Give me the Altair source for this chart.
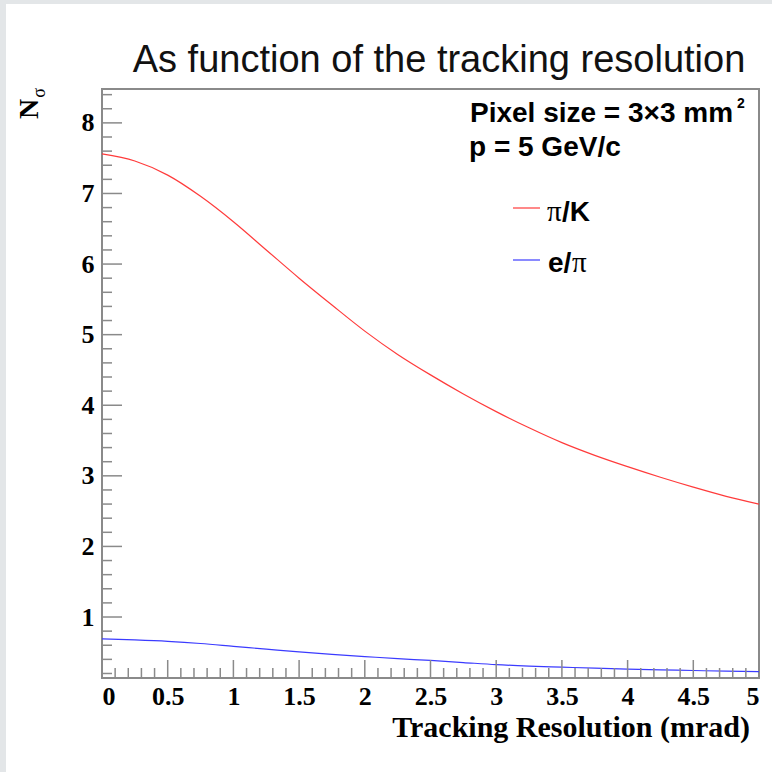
import altair as alt
import pandas as pd
import numpy as np

# ---- data ----
resolution = [0.0, 0.25, 0.5, 0.75, 1.0, 1.25, 1.5, 1.75, 2.0, 2.25, 2.5,
              2.75, 3.0, 3.25, 3.5, 3.75, 4.0, 4.25, 4.5, 4.75, 5.0]
pi_k = [7.56, 7.46, 7.26, 6.96, 6.60, 6.20, 5.80, 5.42, 5.05, 4.72, 4.43,
        4.16, 3.91, 3.68, 3.47, 3.29, 3.13, 2.98, 2.84, 2.71, 2.60]
e_pi = [0.69, 0.675, 0.655, 0.625, 0.585, 0.545, 0.505, 0.47, 0.44, 0.41, 0.385,
        0.355, 0.325, 0.305, 0.29, 0.275, 0.262, 0.252, 0.242, 0.232, 0.225]

x_major = [0, 0.5, 1, 1.5, 2, 2.5, 3, 3.5, 4, 4.5, 5]
y_major = [1, 2, 3, 4, 5, 6, 7, 8]
x_minor = [round(v, 1) for v in np.arange(0.1, 5.0, 0.1) if round(v * 10) % 5 != 0]
y_minor = [round(v, 1) for v in np.arange(0.2, 8.5, 0.2) if round(v * 10) % 10 != 0]

X_DOMAIN = [0, 5]
Y_DOMAIN = [0.136, 8.48]

W, H = 657, 589
LEFT, TOP = 102, 89

df = pd.DataFrame({
    "res": resolution * 2,
    "n": pi_k + e_pi,
    "series": ["π/K"] * len(resolution) + ["e/π"] * len(resolution),
})

xs = alt.Scale(domain=X_DOMAIN, nice=False, zero=False)
ys = alt.Scale(domain=Y_DOMAIN, nice=False, zero=False)

SERIF = "Liberation Serif"
SANS = "Liberation Sans"
GRAY = "#8a8a8a"
LABEL_SIZE = 26

x_axis = alt.Axis(values=x_major, format="~g", ticks=False, domain=False, grid=False,
                  labelFont=SERIF, labelFontWeight="bold", labelFontSize=LABEL_SIZE,
                  labelColor="black", labelPadding=5, title=None)
y_axis = alt.Axis(values=y_major, format="~g", ticks=False, domain=False, grid=False,
                  labelFont=SERIF, labelFontWeight="bold", labelFontSize=LABEL_SIZE,
                  labelColor="black", labelPadding=8, title=None)

lines = alt.Chart(df).mark_line(strokeWidth=1.2, interpolate="monotone").encode(
    x=alt.X("res:Q", scale=xs, axis=x_axis),
    y=alt.Y("n:Q", scale=ys, axis=y_axis),
    color=alt.Color("series:N", scale=alt.Scale(domain=["π/K", "e/π"], range=["#ff3b3b", "#3b3bff"]),
                    legend=None),
)

# inward ticks
xt_major = alt.Chart(pd.DataFrame({"v": x_major[1:-1] + [0]})).mark_rule(color=GRAY, strokeWidth=1.5).encode(
    x=alt.X("v:Q", scale=xs, axis=x_axis), y=alt.value(H), y2=alt.value(H - 18))
xt_minor = alt.Chart(pd.DataFrame({"v": x_minor})).mark_rule(color=GRAY, strokeWidth=1.5).encode(
    x=alt.X("v:Q", scale=xs, axis=x_axis), y=alt.value(H), y2=alt.value(H - 10))
yt_major = alt.Chart(pd.DataFrame({"v": y_major})).mark_rule(color=GRAY, strokeWidth=1.5).encode(
    y=alt.Y("v:Q", scale=ys, axis=y_axis), x=alt.value(0), x2=alt.value(20))
yt_minor = alt.Chart(pd.DataFrame({"v": y_minor})).mark_rule(color=GRAY, strokeWidth=1.5).encode(
    y=alt.Y("v:Q", scale=ys, axis=y_axis), x=alt.value(0), x2=alt.value(10))

# outer gray border strips (screenshot frame)
border_left = alt.Chart(pd.DataFrame({"a": [0]})).mark_rect(color="#e3e6e8").encode(
    x=alt.value(-LEFT), x2=alt.value(-LEFT + 6), y=alt.value(-TOP), y2=alt.value(H + 94))
border_top = alt.Chart(pd.DataFrame({"a": [0]})).mark_rect(color="#e3e6e8").encode(
    x=alt.value(-LEFT), x2=alt.value(W + 13), y=alt.value(-TOP), y2=alt.value(-TOP + 4))


def txt(text, x, y, size, font=SANS, weight="normal", align="left", baseline="alphabetic",
        angle=0, color="black"):
    return alt.Chart(pd.DataFrame({"t": [text]})).mark_text(
        font=font, fontSize=size, fontWeight=weight, align=align, baseline=baseline,
        angle=angle, color=color).encode(text="t:N", x=alt.value(x), y=alt.value(y))


texts = [
    txt("As function of the tracking resolution", 337, -17, 38, color="#111111", align="center"),
    txt("Pixel size = 3×3 mm", 368, 33, 28, weight="bold"),
    txt("2", 635, 19, 14, weight="bold"),
    txt("p = 5 GeV/c", 367, 67, 28, weight="bold"),
    txt("π", 445, 132, 29, font=SERIF),
    txt("/K", 460, 132, 28, weight="bold"),
    txt("e/", 446, 183, 28, weight="bold"),
    txt("π", 470, 183, 29, font=SERIF),
    txt("Tracking Resolution (mrad)", 648, 648, 30, font=SERIF, weight="bold", align="right"),
    txt("N", -72, 20, 28, font=SERIF, weight="bold", align="center", baseline="middle", angle=270),
    txt("σ", -62, 4, 18, font=SERIF, align="center", baseline="middle", angle=270),
]

leg_red = alt.Chart(pd.DataFrame({"a": [0]})).mark_rule(color="#ff3b3b", strokeWidth=1.2).encode(
    x=alt.value(411), x2=alt.value(438), y=alt.value(119))
leg_blue = alt.Chart(pd.DataFrame({"a": [0]})).mark_rule(color="#3b3bff", strokeWidth=1.2).encode(
    x=alt.value(411), x2=alt.value(438), y=alt.value(171))

chart = alt.layer(
    border_left, border_top, lines, xt_major, xt_minor, yt_major, yt_minor,
    leg_red, leg_blue, *texts
).properties(
    width=W, height=H,
    autosize=alt.AutoSizeParams(type="none"),
    padding={"left": LEFT, "top": TOP, "right": 13, "bottom": 94},
    background="white",
).configure_view(stroke=GRAY, strokeWidth=2)

chart.save("out.html", embed_options={"renderer": "svg", "actions": False})
